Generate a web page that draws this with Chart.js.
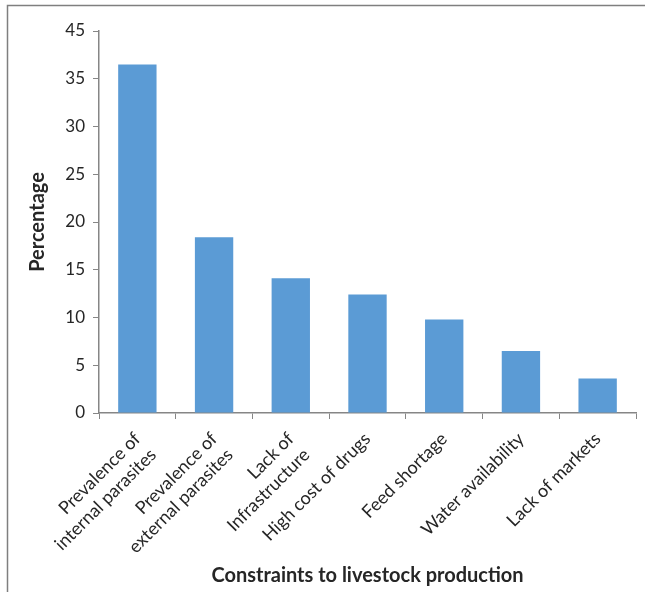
<!DOCTYPE html>
<html>
<head>
<meta charset="utf-8">
<script src="https://cdn.jsdelivr.net/npm/chart.js@4/dist/chart.umd.min.js"></script>
<style>
  html, body { margin: 0; padding: 0; background: #fff; }
  #wrap { width: 645px; height: 592px; position: relative; }
</style>
</head>
<body>
<div id="wrap"><canvas id="myChart" width="645" height="592"></canvas></div>
<script>
// categories and values
const constraints = [
  ["Prevalence of", "internal parasites"],
  ["Prevalence of", "external parasites"],
  ["Lack of", "Infrastructure"],
  "High cost of drugs",
  "Feed shortage",
  "Water availability",
  "Lack of markets",
];
const percentages = [36.5, 18.4, 14.1, 12.4, 9.8, 6.5, 3.6];
// the original axis shows "45" where 40 should be
const yTickLabels = ["0", "5", "10", "15", "20", "25", "30", "35", "45"];

const textColor = "#262626";
const axisColor = "#868686";
const fontFamily = "Lato, 'Open Sans', sans-serif";

// partial outer frame (top and left edges only)
const framePlugin = {
  id: "frame",
  beforeDraw(chart) {
    const ctx = chart.ctx;
    ctx.save();
    ctx.strokeStyle = "#7f7f7f";
    ctx.lineWidth = 1.5;
    ctx.beginPath();
    ctx.moveTo(7.5, 592);
    ctx.lineTo(7.5, 5.5);
    ctx.lineTo(645, 5.5);
    ctx.stroke();
    ctx.restore();
  },
};

const ctx = document.getElementById("myChart");
new Chart(ctx, {
  type: "bar",
  data: {
    labels: constraints,
    datasets: [
      {
        label: "Percentage",
        data: percentages,
        backgroundColor: "#5B9BD5",
        borderWidth: 0,
        barPercentage: 0.5,
        categoryPercentage: 1.0,
      },
    ],
  },
  options: {
    responsive: false,
    animation: false,
    layout: {
      padding: { top: 31, right: 9, left: 0, bottom: 0 },
    },
    plugins: {
      legend: { display: false },
      tooltip: { enabled: false },
    },
    scales: {
      x: {
        afterFit: (scale) => { scale.height = 179; },
        grid: {
          offset: true,
          drawOnChartArea: false,
          drawTicks: true,
          tickLength: 6,
          color: axisColor,
        },
        border: { color: axisColor, width: 1.5 },
        ticks: {
          color: textColor,
          font: { family: fontFamily, size: 18, lineHeight: 1.25 },
          minRotation: 45,
          maxRotation: 45,
          autoSkip: false,
          padding: 9,
          labelOffset: 0,
        },
        title: {
          display: true,
          text: "Constraints to livestock production",
          color: textColor,
          font: { family: fontFamily, size: 20, weight: "bold" },
          padding: { top: 0, bottom: 4 },
        },
      },
      y: {
        min: 0,
        max: 40,
        afterFit: (scale) => { scale.width = 99; },
        grid: {
          drawOnChartArea: false,
          drawTicks: true,
          tickLength: 6,
          color: axisColor,
        },
        border: { color: axisColor, width: 1.5 },
        ticks: {
          stepSize: 5,
          color: textColor,
          font: { family: fontFamily, size: 17 },
          padding: 8,
          callback: (value, index) => yTickLabels[index],
        },
        title: {
          display: true,
          text: "Percentage",
          color: textColor,
          font: { family: fontFamily, size: 20, weight: "bold" },
          padding: { top: 26, bottom: 0 },
        },
      },
    },
  },
  plugins: [framePlugin],
});
</script>
</body>
</html>
